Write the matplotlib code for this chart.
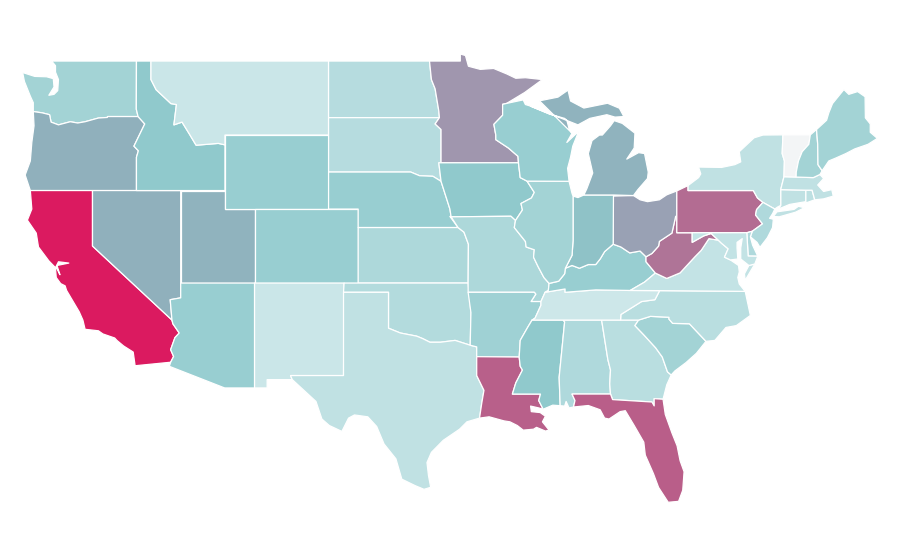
import matplotlib
matplotlib.use("Agg")
import matplotlib.pyplot as plt
from matplotlib.colors import LinearSegmentedColormap, Normalize

# ---- data values per state ----
states = ["WA","OR","CA","NV","UT","AZ","ID","MT","WY","CO","NM","ND","SD","NE","KS","OK","TX",
          "MN","IA","MO","AR","LA","MS","AL","GA","FL","SC","NC","TN","KY","VA","WV","OH","IN",
          "IL","WI","MI","PA","NY","NJ","DE","MD","CT","RI","MA","VT","NH","ME"]
values = [24,40,100,40,39,27,30,12,27,27,12,18,18,27,21,19,15,
          50,30,21,25,72,30,20,17,73,24,17,11,27,14,64,46,33,
          24,27,39,67,15,20,20,14,15,16,15,0,24,24]

# ---- shared borders (lon, lat) ----
WI_MN = [(-92.02,46.71),(-92.29,46.66),(-92.29,46.07),(-92.88,45.58),(-92.75,45.0),(-92.75,44.75),(-91.9,44.3),(-91.25,43.85),(-91.22,43.5)]
IL_IA = [(-90.64,42.51),(-90.15,41.9),(-90.34,41.6),(-91.05,41.3),(-90.95,40.95),(-91.42,40.38)]
IL_MO = [(-91.42,40.38),(-91.5,40.0),(-90.75,39.25),(-90.7,38.95),(-90.15,38.8),(-90.2,38.4),(-89.9,37.9),(-89.5,37.3),(-89.15,36.98)]
AR_TN = [(-89.7,36.0),(-89.7,35.8),(-90.1,35.1),(-90.3,35.0)]
AR_MS = [(-90.3,35.0),(-90.6,34.6),(-91.1,33.9),(-91.17,33.0)]
LA_MS = [(-91.17,33.0),(-91.1,32.5),(-90.95,32.3),(-91.4,31.6),(-91.63,31.0),(-89.73,31.0),(-89.85,30.65),(-89.55,30.18)]
IL_KY = [(-89.15,36.98),(-88.5,37.1),(-88.1,37.5),(-88.05,37.8)]
IN_KY = [(-88.05,37.8),(-87.6,37.95),(-87.1,37.8),(-86.5,38.0),(-86.0,38.0),(-85.7,38.3),(-85.4,38.7),(-84.82,39.1)]
OH_KY = [(-84.82,39.1),(-84.3,38.95),(-83.7,38.63),(-83.0,38.73),(-82.6,38.42)]
WV_KY = [(-82.6,38.42),(-82.6,38.15),(-81.97,37.54)]
WV_OH = [(-82.6,38.42),(-82.2,38.6),(-81.75,39.0),(-81.7,39.25),(-80.85,39.7),(-80.6,40.6),(-80.52,40.64)]
WA_OR = [(-124.0,46.27),(-123.4,46.2),(-122.9,46.1),(-122.8,45.7),(-122.3,45.55),(-121.5,45.72),(-121.0,45.65),(-120.5,45.72),(-119.6,45.92),(-119.0,45.95),(-118.98,46.0),(-116.92,46.0)]
OR_ID = [(-116.92,46.0),(-116.47,45.6),(-117.2,44.4),(-116.9,44.15),(-117.03,43.8),(-117.03,42.0)]
ID_MT = [(-116.05,49.0),(-116.05,48.0),(-115.7,47.45),(-114.7,46.7),(-114.33,46.65),(-114.5,45.55),(-113.95,45.7),(-113.45,45.05),(-113.0,44.45),(-111.5,44.55),(-111.05,44.47)]
CA_AZ = [(-114.63,35.0),(-114.57,34.8),(-114.14,34.3),(-114.43,34.05),(-114.72,33.4),(-114.52,33.03),(-114.72,32.72)]
SD_MN = [(-96.56,45.94),(-96.85,45.6),(-96.45,45.3),(-96.45,43.5)]
ND_MN = [(-97.23,49.0),(-97.1,48.0),(-96.85,47.5),(-96.6,46.3),(-96.56,45.94)]
SD_NE = [(-96.45,42.5),(-97.0,42.77),(-97.9,42.8),(-98.5,43.0),(-104.05,43.0)]
IA_NE = [(-96.45,42.5),(-96.05,41.5),(-95.85,41.0),(-95.77,40.58)]
KS_MO = [(-95.3,40.0),(-94.9,39.75),(-94.6,39.1),(-94.62,37.0)]
OK_TX = [(-94.48,33.64),(-95.5,33.9),(-96.5,33.8),(-97.2,33.8),(-97.7,34.0),(-98.1,34.13),(-99.2,34.3),(-100.0,34.56),(-100.0,36.5),(-103.04,36.5)]
TX_LA = [(-94.04,33.02),(-94.04,32.0),(-93.55,31.2),(-93.7,30.5),(-93.85,29.7)]
NC_TN = [(-81.68,36.59),(-82.0,36.1),(-82.9,36.0),(-83.7,35.6),(-84.3,35.3),(-84.32,35.0)]
GA_SC = [(-83.1,35.0),(-83.35,34.7),(-82.75,34.2),(-81.95,33.5),(-81.5,33.0),(-81.15,32.2),(-80.9,32.03)]
NC_SC = [(-83.1,35.0),(-82.3,35.2),(-81.05,35.15),(-81.05,35.05),(-80.8,34.82),(-79.67,34.8),(-78.55,33.85)]
VA_WV = [(-77.72,39.32),(-78.35,39.4),(-78.87,38.77),(-79.3,38.42),(-80.3,37.55),(-81.2,37.25),(-81.97,37.54)]
VA_KY = [(-81.97,37.54),(-82.7,37.05),(-83.67,36.6)]
MD_WV = [(-79.48,39.2),(-78.7,39.55),(-78.2,39.68),(-77.72,39.32)]
VA_MD = [(-75.9,36.55),(-76.3,36.95),(-76.4,37.3),(-76.3,37.6),(-76.35,37.95),(-76.9,38.25),(-77.3,38.4),(-77.05,38.85),(-77.5,39.15),(-77.72,39.32)]
NY_NJ_PA = [(-73.9,41.0),(-74.7,41.36),(-75.07,41.6),(-75.35,42.0)]
PA_NJ = [(-74.7,41.36),(-75.13,40.97),(-75.2,40.68),(-74.73,40.2),(-75.42,39.8)]
NH_VT = [(-71.5,45.01),(-71.6,44.5),(-72.05,44.1),(-72.3,43.6),(-72.45,43.0),(-72.46,42.73)]
NY_VT = [(-73.35,45.01),(-73.4,44.0),(-73.25,43.6),(-73.28,42.75)]
NH_ME = [(-71.08,45.3),(-71.0,44.5),(-70.98,43.4),(-70.7,43.07)]
MI_WI = [(-90.42,46.57),(-89.1,46.13),(-88.1,45.9),(-87.95,45.8),(-87.8,45.35),(-87.6,45.1)]

def rv(seg):
    return seg[::-1]

outlines = {
 "WA": [[(-122.76,49.0),(-122.5,48.75),(-122.5,48.4),(-122.3,48.0),(-122.35,47.4),(-122.6,47.2),(-122.95,47.15),(-122.6,47.6),(-122.65,48.05),(-123.1,48.15),(-123.9,48.17),(-124.72,48.38),(-124.6,47.9),(-124.2,47.1),(-124.0,46.75)]+WA_OR+[(-117.04,46.4),(-117.03,49.0)]],
 "OR": [WA_OR+OR_ID[1:]+[(-124.2,42.0),(-124.55,42.84),(-124.2,43.6),(-124.1,44.6),(-123.95,45.5)]],
 "CA": [[(-124.2,42.0),(-120.0,42.0),(-120.0,39.0)]+CA_AZ+[(-117.12,32.53),(-117.25,33.27),(-117.9,33.6),(-118.35,33.9),(-118.5,34.03),(-119.3,34.25),(-119.6,34.42),(-120.5,34.5),(-120.65,35.0),(-120.9,35.45),(-121.75,36.6),(-121.85,36.85),(-122.15,36.97),(-122.45,37.3),(-122.5,37.78),(-122.42,37.8),(-122.2,37.45),(-122.4,37.95),(-121.6,38.08),(-122.3,38.15),(-122.5,37.83),(-122.95,38.2),(-123.65,38.95),(-123.8,39.7),(-124.4,40.4),(-124.1,41.0)]],
 "NV": [[(-120.0,42.0),(-114.04,42.0),(-114.04,36.2),(-114.75,36.1),(-114.63,35.0),(-120.0,39.0)]],
 "UT": [[(-114.04,42.0),(-111.05,42.0),(-111.05,41.0),(-109.05,41.0),(-109.05,37.0),(-114.04,37.0)]],
 "AZ": [[(-114.04,37.0),(-109.05,37.0),(-109.05,31.33),(-111.07,31.33),(-114.81,32.5)]+rv(CA_AZ)+[(-114.75,36.1),(-114.04,36.2)]],
 "ID": [[(-117.03,49.0)]+ID_MT+[(-111.05,42.0)]+rv(OR_ID)+[(-117.04,46.4)]],
 "MT": [ID_MT[:1]+[(-104.05,49.0),(-104.05,45.0),(-111.05,45.0)]+rv(ID_MT)],
 "WY": [[(-111.05,45.0),(-104.05,45.0),(-104.05,41.0),(-111.05,41.0)]],
 "CO": [[(-109.05,41.0),(-102.05,41.0),(-102.05,37.0),(-109.05,37.0)]],
 "NM": [[(-109.05,37.0),(-103.0,37.0),(-103.04,32.0),(-106.62,32.0),(-106.5,31.78),(-108.2,31.78),(-108.2,31.33),(-109.05,31.33)]],
 "ND": [[(-104.05,49.0)]+ND_MN+[(-104.05,45.94)]],
 "SD": [[(-104.05,45.94)]+SD_MN+[(-96.6,43.5)]+SD_NE],
 "NE": [rv(SD_NE)+IA_NE[1:]+[(-95.85,40.6),(-95.3,40.0),(-102.05,40.0),(-102.05,41.0),(-104.05,41.0)]],
 "KS": [[(-102.05,40.0)]+KS_MO+[(-102.05,37.0)]],
 "OK": [[(-103.0,37.0),(-94.62,37.0),(-94.43,35.4)]+OK_TX],
 "TX": [rv(OK_TX)+[(-94.04,33.55)]+TX_LA+[(-94.7,29.5),(-95.2,29.1),(-96.3,28.5),(-97.1,27.85),(-97.4,27.3),(-97.3,26.6),(-97.15,25.96),(-97.6,25.85),(-98.2,26.05),(-99.1,26.4),(-99.5,27.5),(-100.3,28.3),(-100.8,29.25),(-101.4,29.77),(-102.3,29.87),(-102.7,29.7),(-103.15,28.98),(-104.0,29.3),(-104.5,29.65),(-104.9,30.6),(-106.5,31.78),(-106.62,32.0),(-103.04,32.0)]],
 "MN": [ND_MN[:1]+[(-95.15,49.0),(-95.15,49.38),(-94.8,49.3),(-94.6,48.72),(-93.8,48.55),(-92.9,48.6),(-92.0,48.3),(-91.4,48.07),(-90.75,48.1),(-89.6,48.0),(-90.8,47.3)]+WI_MN+rv(SD_MN)+rv(ND_MN)],
 "IA": [[(-96.6,43.5),(-91.22,43.5),(-91.1,42.7)]+IL_IA+[(-91.73,40.61)]+rv(IA_NE)],
 "MO": [[(-95.77,40.58),(-91.73,40.61)]+IL_MO+[(-89.2,36.6),(-89.42,36.5),(-89.7,36.0),(-90.37,36.0),(-90.05,36.4),(-90.15,36.5),(-94.62,36.5)]+rv(KS_MO)],
 "AR": [[(-94.62,36.5),(-90.15,36.5),(-90.05,36.4),(-90.37,36.0)]+AR_TN+AR_MS[1:]+[(-94.04,33.02),(-94.04,33.55),(-94.48,33.64),(-94.43,35.4)]],
 "LA": [[(-94.04,33.02)]+LA_MS+[(-89.85,30.25),(-90.4,30.35),(-90.35,30.05),(-89.75,30.0),(-89.4,29.8),(-89.6,29.5),(-89.15,29.05),(-89.4,29.0),(-90.0,29.2),(-90.2,29.1),(-90.9,29.05),(-91.3,29.3),(-91.8,29.5),(-92.2,29.55),(-93.2,29.77)]+rv(TX_LA)[:-1]],
 "MS": [[(-90.3,35.0),(-88.2,35.0),(-88.1,34.9),(-88.47,31.9),(-88.4,30.37),(-88.9,30.4)]+rv(LA_MS)+rv(AR_MS)[1:]],
 "AL": [[(-88.2,35.0),(-85.6,35.0),(-85.18,32.87),(-85.0,32.3),(-85.05,31.55),(-85.0,31.0),(-87.6,31.0),(-87.4,30.65),(-87.5,30.3),(-87.8,30.25),(-88.0,30.6),(-88.1,30.35),(-88.4,30.37),(-88.47,31.9),(-88.1,34.9)]],
 "GA": [[(-85.6,35.0),(-84.32,35.0)]+GA_SC+[(-81.2,31.5),(-81.45,30.72),(-82.05,30.75),(-82.05,30.36),(-82.2,30.57),(-84.86,30.7),(-85.0,31.0),(-85.05,31.55),(-85.0,32.3),(-85.18,32.87)]],
 "FL": [[(-87.6,31.0),(-85.0,31.0),(-84.86,30.7),(-82.2,30.57),(-82.05,30.36),(-82.05,30.75),(-81.45,30.72),(-81.3,29.9),(-80.85,28.9),(-80.5,28.2),(-80.3,27.4),(-80.03,26.8),(-80.12,25.8),(-80.4,25.2),(-81.1,25.15),(-81.75,25.95),(-82.1,26.7),(-82.65,27.7),(-82.75,28.4),(-83.4,29.3),(-84.0,30.1),(-84.35,30.05),(-85.1,29.65),(-85.4,29.7),(-85.7,30.15),(-86.5,30.38),(-87.5,30.3),(-87.4,30.65)]],
 "SC": [NC_SC+[(-79.2,33.2),(-79.9,32.7),(-80.65,32.25)]+rv(GA_SC)],
 "NC": [[(-84.32,35.0)]+NC_SC+[(-77.95,33.9),(-77.2,34.6),(-76.5,34.7),(-75.55,35.25),(-75.9,36.55)]+NC_TN],
 "TN": [[(-90.3,35.0),(-88.2,35.0),(-85.6,35.0)]+rv(NC_TN)+[(-83.67,36.6),(-86.0,36.63),(-88.07,36.5),(-88.07,36.68),(-89.42,36.5)]+AR_TN],
 "KY": [IL_KY+IN_KY[1:]+OH_KY[1:]+WV_KY[1:]+VA_KY[1:]+[(-86.0,36.63),(-88.07,36.5),(-88.07,36.68),(-89.42,36.5),(-89.2,36.6)]],
 "VA": [[(-83.67,36.6),(-81.68,36.59)]+VA_MD+VA_WV[1:]+VA_KY[1:],
        [(-75.65,37.95),(-75.25,38.03),(-75.9,37.15),(-75.95,37.5)]],
 "WV": [WV_OH+[(-80.52,39.72),(-79.48,39.72)]+MD_WV+VA_WV[1:]+rv(WV_KY)[1:]],
 "OH": [[(-84.82,41.7),(-83.45,41.73),(-83.0,41.5),(-82.5,41.4),(-81.7,41.5),(-81.2,41.77),(-80.52,41.98)]+rv(WV_OH)+rv(OH_KY)[1:]],
 "IN": [[(-87.53,41.7),(-87.2,41.62),(-86.8,41.76),(-84.8,41.76)]+rv(IN_KY)+[(-87.6,38.5),(-87.53,39.3)]],
 "IL": [[(-90.64,42.51),(-87.8,42.5),(-87.6,41.85),(-87.53,41.7),(-87.53,39.3),(-87.6,38.5)]+rv(IL_KY)+rv(IL_MO)[1:]+rv(IL_IA)[1:]],
 "WI": [WI_MN[:1]+[(-90.9,46.9),(-90.75,46.65)]+MI_WI+[(-87.95,44.6),(-87.15,45.2),(-87.55,44.4),(-87.7,43.8),(-87.9,43.2),(-87.8,42.5),(-90.64,42.51),(-91.1,42.7)]+rv(WI_MN)],
 "MI": [[(-86.8,41.76),(-84.8,41.76),(-83.45,41.73),(-83.15,42.05),(-82.5,42.65),(-82.45,43.0),(-82.7,44.0),(-83.1,44.05),(-83.9,43.7),(-83.4,44.3),(-83.35,45.1),(-84.2,45.63),(-84.75,45.78),(-85.0,45.5),(-85.55,45.0),(-85.75,45.0),(-86.25,44.7),(-86.5,44.0),(-86.2,42.95),(-86.6,42.1)],
        rv(MI_WI)+[(-87.2,45.55),(-86.4,45.9),(-85.25,46.1),(-84.7,45.97),(-84.1,46.0),(-84.4,46.45),(-85.2,46.72),(-86.8,46.46),(-87.7,46.84),(-87.87,47.43),(-88.55,47.05),(-89.8,46.85)],
        [(-89.1,47.9),(-88.5,48.15),(-88.9,47.98)]],
 "PA": [[(-80.52,41.98),(-79.76,42.27),(-79.76,42.0),(-75.35,42.0),(-75.07,41.6)]+PA_NJ+[(-75.79,39.72),(-80.52,39.72)]],
 "NY": [[(-79.76,42.27),(-79.05,42.7),(-78.9,42.9),(-79.05,43.27),(-77.5,43.25),(-76.6,43.4),(-76.2,43.55),(-76.3,44.1),(-75.3,44.85),(-74.7,45.0)]+NY_VT+[(-73.5,42.05),(-73.49,41.2),(-73.73,41.1)]+NY_NJ_PA+[(-79.76,42.0)],
        [(-74.0,40.6),(-73.75,40.85),(-72.6,40.98),(-72.3,41.15),(-71.9,41.07),(-72.5,40.83),(-73.6,40.58)]],
 "NJ": [NY_NJ_PA[:2]+PA_NJ[1:]+[(-75.55,39.5),(-75.1,39.2),(-74.9,38.93),(-74.4,39.45),(-74.05,40.0),(-74.0,40.45),(-74.25,40.5),(-74.05,40.75)]],
 "DE": [[(-75.79,39.72),(-75.42,39.8),(-75.55,39.5),(-75.4,39.05),(-75.05,38.45),(-75.7,38.46)]],
 "MD": [[(-79.48,39.72),(-75.79,39.72),(-75.7,38.46),(-75.05,38.45),(-75.25,38.03),(-75.65,37.95),(-76.2,38.3),(-76.2,38.9),(-76.1,39.4),(-76.45,39.2),(-76.45,38.9),(-76.4,38.3),(-76.9,38.25),(-77.3,38.4),(-77.05,38.85),(-77.5,39.15)]+rv(MD_WV)],
 "CT": [[(-73.49,42.05),(-71.8,42.02),(-71.8,41.4),(-72.9,41.25),(-73.65,41.0),(-73.49,41.2)]],
 "RI": [[(-71.8,42.02),(-71.38,42.02),(-71.2,41.5),(-71.8,41.33)]],
 "MA": [[(-73.5,42.05),(-73.28,42.75),(-72.46,42.73),(-71.3,42.7),(-70.85,42.87),(-70.6,42.65),(-71.0,42.3),(-70.6,41.95),(-70.05,42.05),(-69.95,41.7),(-70.6,41.55),(-71.2,41.5),(-71.38,42.02),(-71.8,42.02)]],
 "VT": [NY_VT[:1]+NH_VT+rv(NY_VT)[:-1]],
 "NH": [NH_VT[:1]+NH_ME+[(-70.85,42.87),(-71.3,42.7)]+rv(NH_VT)[:-1]],
 "ME": [NH_ME[:1]+[(-70.4,45.8),(-70.25,46.2),(-70.0,46.7),(-69.23,47.46),(-68.9,47.2),(-68.3,47.35),(-67.8,47.07),(-67.78,45.93),(-67.45,45.6),(-67.45,45.15),(-66.97,44.82),(-67.6,44.5),(-68.5,44.25),(-69.1,44.0),(-69.8,43.75),(-70.25,43.6)]+rv(NH_ME)],
}

cmap = LinearSegmentedColormap.from_list("map", [(0.0,"#f3f5f6"),(0.12,"#c9e6e8"),(0.30,"#8fc9cc"),(0.40,"#90b0bc"),(0.50,"#a096ae"),(0.72,"#b8608a"),(1.0,"#db1a60")])
norm = Normalize(0, 100)

fig = plt.figure(figsize=(9, 5.6), dpi=100, facecolor="white")
ax = fig.add_axes([0, 0, 1, 1])
for st, v in zip(states, values):
    for ring in outlines[st]:
        xs, ys = zip(*ring)
        ax.fill(xs, ys, facecolor=cmap(norm(v)), edgecolor="white", linewidth=0.9, joinstyle="round")
ax.set_xlim(-126.25, -65.44)
ax.set_ylim(22.03, 52.30)
ax.axis("off")
fig.savefig("out.png", dpi=100, facecolor="white")
